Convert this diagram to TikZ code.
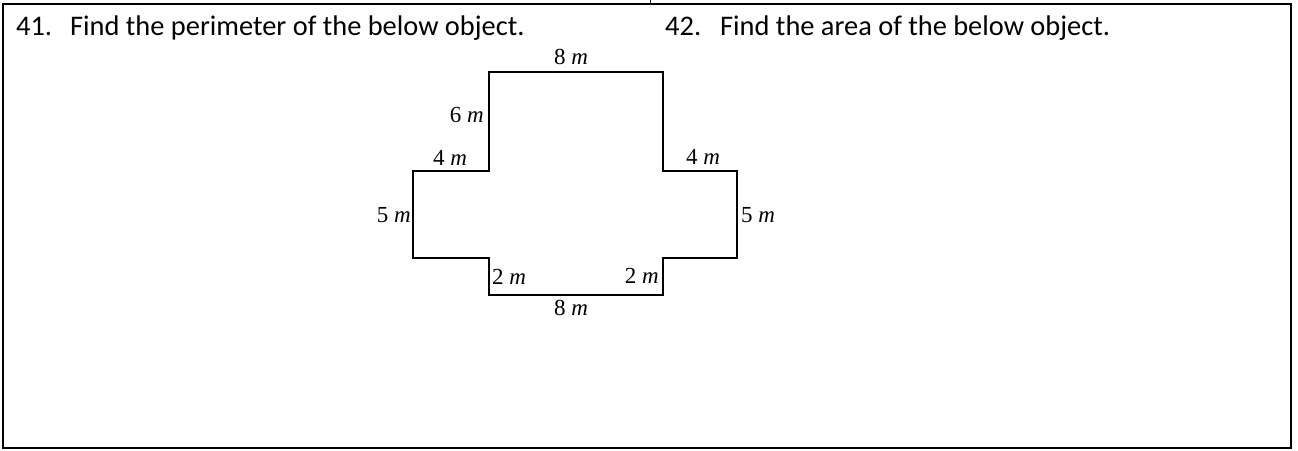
\documentclass[tikz,border=0pt]{standalone}
\usepackage{fontspec}
\setmainfont{Carlito}
\newfontfamily\sidefont{Liberation Serif}
\usetikzlibrary{positioning}

\tikzset{
  side/.style={inner sep=0pt,font=\sidefont\fontsize{23}{23}\selectfont},
  task/.style={inner sep=0pt,anchor=base west,font=\fontsize{28.4}{28}\selectfont}
}
\newcommand{\len}[1]{#1 \textit{m}}

\begin{document}
\begin{tikzpicture}[x=1pt,y=-1pt]
  \useasboundingbox (0,0) rectangle (1298,450);
  % frame of the row
  \draw[line width=1.5pt] (3,4) rectangle (1291,448);
  \draw[line width=1pt] (650,0) -- (650,4);
  % the two questions
  \node[task] (q41) at (16,35) {41.};
  \node[task] (t41) at (70,35) {Find the perimeter of the below object.};
  \node[task] (q42) at (665,35) {42.};
  \node[task] (t42) at (720,35) {Find the area of the below object.};
  % the cross shaped object
  \draw[line width=1.5pt] (489,72) -- (663,72) -- (663,171) -- (737,171)
    -- (737,258) -- (663,258) -- (663,295) -- (489,295) -- (489,258)
    -- (413,258) -- (413,171) -- (489,171) -- cycle;
  % lengths of the sides
  \node[side] (top8) at (571,57) {\len{8}};
  \node[side,anchor=east] (six) at (484,115) {\len{6}};
  \node[side] (fourL) at (450,158) {\len{4}};
  \node[side] (fourR) at (703,157) {\len{4}};
  \node[side,anchor=east] (fiveL) at (411,215) {\len{5}};
  \node[side,anchor=west] (fiveR) at (741,215) {\len{5}};
  \node[side,anchor=west] (twoL) at (492,277) {\len{2}};
  \node[side,anchor=east] (twoR) at (659,276) {\len{2}};
  \node[side] (bot8) at (571,308) {\len{8}};
\end{tikzpicture}
\end{document}
